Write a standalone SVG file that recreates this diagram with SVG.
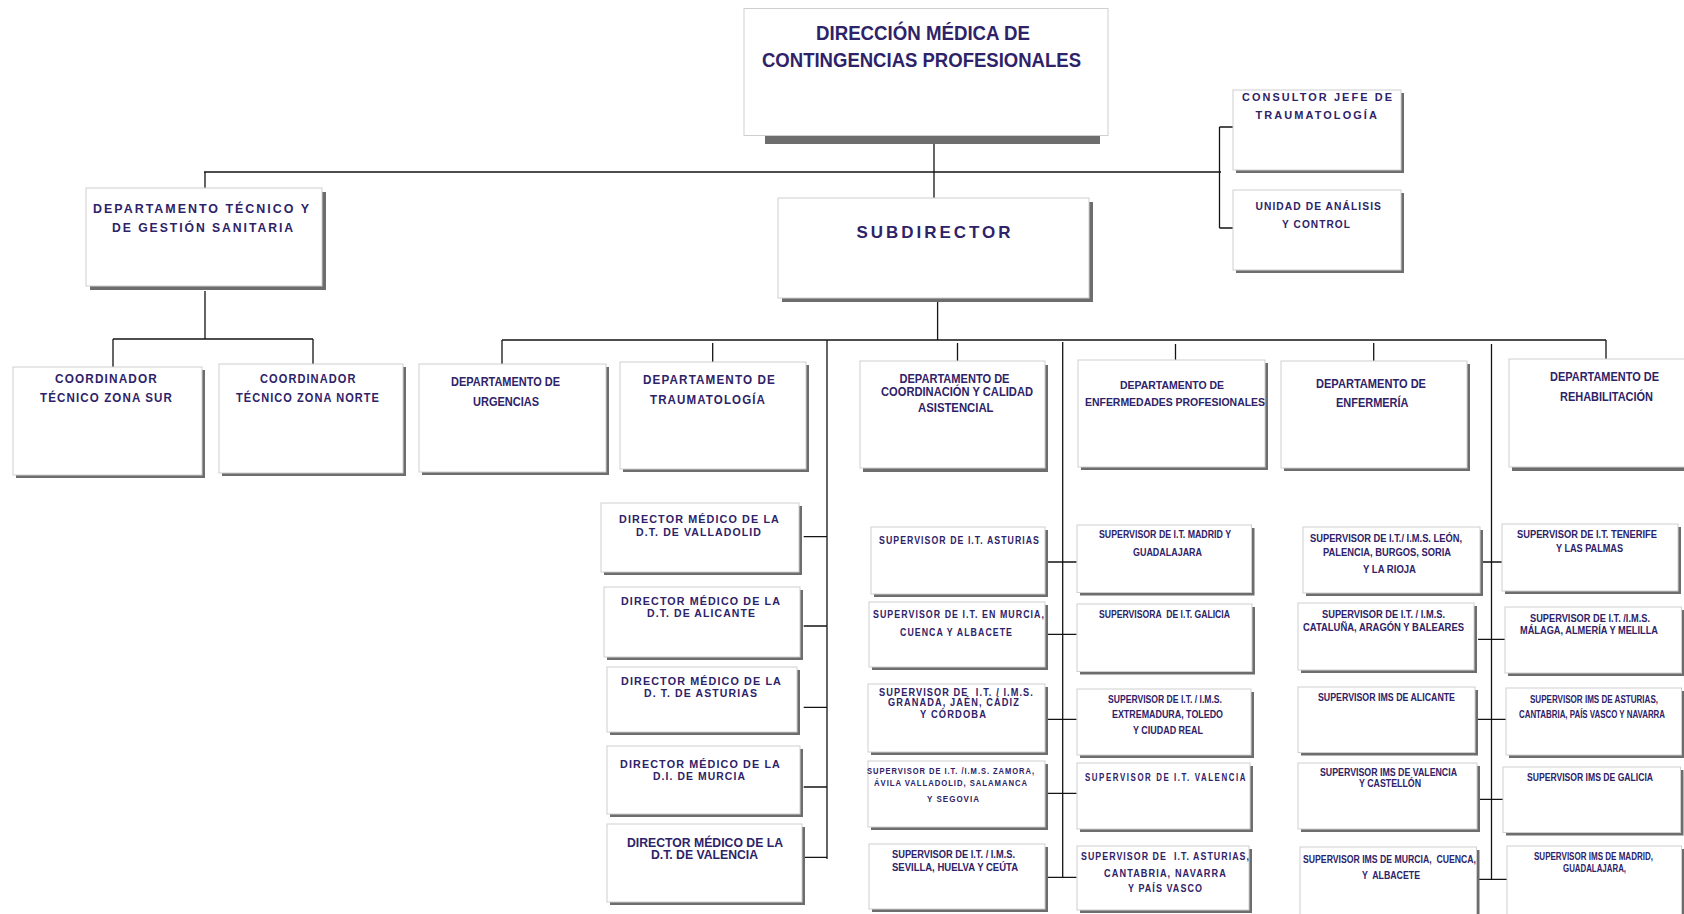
<svg xmlns="http://www.w3.org/2000/svg" width="1684" height="914" viewBox="0 0 1684 914">
<style>
.bx{fill:#fff;stroke:#cfcfcf;stroke-width:1}
.sh{fill:#6d6d6d}
text{font-family:"Liberation Sans",Arial,sans-serif;font-weight:bold;fill:#2e2268}
.f20{font-size:20px}
.f17{font-size:17px;letter-spacing:3px}
.f13{font-size:13px}
.f125{font-size:12.5px}
.f115{font-size:11.5px}
.f105{font-size:10.5px}
.f10{font-size:10px}
.f95{font-size:9.5px}
.ls2{letter-spacing:2px}
.ls1{letter-spacing:1.2px}
.cn{fill:none;stroke:#141414;stroke-width:1.3}
</style>
<rect width="1684" height="914" fill="#fff"/>
<g id="connectors">
<path class="cn" d="M934,144V198 M204,172H1221 M205,172V188 M1219.5,127V228 M1219.5,127H1233 M1219.5,228H1233 M205,291V339 M113,339H313 M113,339V367 M313,339V364 M937.6,302V340 M502,340H1606 M502,340V364 M712.7,343V362 M827,340V859 M957.5,343V361 M1062.7,342V878 M1175.5,344V360 M1373.7,343V361 M1491.5,344V880 M1606,340V359 M803.7,536.7H827 M803.7,626H827 M803.7,707.3H827 M803.7,787H827 M803.7,857.3H827 M1046.7,562H1076.7 M1046.7,634.3H1076.7 M1046.7,719.3H1076.7 M1046.7,793.3H1076.7 M1046.7,877.3H1076.7 M1479,562H1503.7 M1478,639.3H1505 M1475.7,719.3H1506 M1476,799.3H1506 M1476,879.3H1510"/>
</g>
<g id="n-direccion">
<rect class="sh" x="765" y="135.5" width="335" height="8.5"/>
<rect class="bx" x="744" y="8.5" width="364" height="127"/>
<text class="f20" x="816" y="39.5" textLength="214" lengthAdjust="spacingAndGlyphs">DIRECCIÓN MÉDICA DE</text>
<text class="f20" x="762" y="67" textLength="319" lengthAdjust="spacingAndGlyphs">CONTINGENCIAS PROFESIONALES</text>
</g>
<g id="n-consultor">
<rect class="sh" x="1236" y="93" width="168" height="80"/>
<rect class="bx" x="1233" y="90" width="168" height="80"/>
<text class="f105 ls2" x="1242" y="101" textLength="152" lengthAdjust="spacingAndGlyphs">CONSULTOR JEFE DE</text>
<text class="f105 ls2" x="1255.5" y="119" textLength="123.5" lengthAdjust="spacingAndGlyphs">TRAUMATOLOGÍA</text>
</g>
<g id="n-unidad">
<rect class="sh" x="1236" y="193" width="168" height="80"/>
<rect class="bx" x="1233" y="190" width="168" height="80"/>
<text class="f115 ls1" x="1255.5" y="210" textLength="126.5" lengthAdjust="spacingAndGlyphs">UNIDAD DE ANÁLISIS</text>
<text class="f115 ls1" x="1282" y="227.5" textLength="69" lengthAdjust="spacingAndGlyphs">Y CONTROL</text>
</g>
<g id="n-subdirector">
<rect class="sh" x="782" y="202" width="311" height="100"/>
<rect class="bx" x="778" y="198" width="311" height="100"/>
<text class="f17" x="856.5" y="237.5" textLength="157" lengthAdjust="spacingAndGlyphs">SUBDIRECTOR</text>
</g>
<g id="n-dtecnico">
<rect class="sh" x="90" y="192" width="236" height="98"/>
<rect class="bx" x="86" y="188" width="236" height="98"/>
<text class="f125 ls2" x="93" y="213" textLength="218" lengthAdjust="spacingAndGlyphs">DEPARTAMENTO TÉCNICO Y</text>
<text class="f125 ls2" x="112" y="232" textLength="183" lengthAdjust="spacingAndGlyphs">DE GESTIÓN SANITARIA</text>
</g>
<g id="n-coord-sur">
<rect class="sh" x="16" y="370" width="189" height="108"/>
<rect class="bx" x="13" y="367" width="189" height="108"/>
<text class="f125 ls1" x="55" y="383" textLength="103" lengthAdjust="spacingAndGlyphs">COORDINADOR</text>
<text class="f125 ls1" x="40" y="402" textLength="133" lengthAdjust="spacingAndGlyphs">TÉCNICO ZONA SUR</text>
</g>
<g id="n-coord-norte">
<rect class="sh" x="222" y="367" width="184" height="109"/>
<rect class="bx" x="219" y="364" width="184" height="109"/>
<text class="f125 ls1" x="260" y="383" textLength="96.5" lengthAdjust="spacingAndGlyphs">COORDINADOR</text>
<text class="f125 ls1" x="236" y="402" textLength="144" lengthAdjust="spacingAndGlyphs">TÉCNICO ZONA NORTE</text>
</g>
<g id="n-urgencias">
<rect class="sh" x="422" y="367" width="187" height="108"/>
<rect class="bx" x="419" y="364" width="187" height="108"/>
<text class="f13" x="451" y="386" textLength="109" lengthAdjust="spacingAndGlyphs">DEPARTAMENTO DE</text>
<text class="f13" x="473" y="406" textLength="66" lengthAdjust="spacingAndGlyphs">URGENCIAS</text>
</g>
<g id="n-traumatologia">
<rect class="sh" x="623" y="365" width="186" height="107"/>
<rect class="bx" x="620" y="362" width="186" height="107"/>
<text class="f125 ls1" x="643" y="384" textLength="133" lengthAdjust="spacingAndGlyphs">DEPARTAMENTO DE</text>
<text class="f125 ls1" x="650" y="404" textLength="116" lengthAdjust="spacingAndGlyphs">TRAUMATOLOGÍA</text>
</g>
<g id="n-coordinacion">
<rect class="sh" x="863" y="365" width="185" height="107"/>
<rect class="bx" x="860" y="361" width="185" height="107"/>
<text class="f125" x="899.5" y="383" textLength="110" lengthAdjust="spacingAndGlyphs">DEPARTAMENTO DE</text>
<text class="f125" x="881" y="396" textLength="152" lengthAdjust="spacingAndGlyphs">COORDINACIÓN Y CALIDAD</text>
<text class="f125" x="918" y="412" textLength="75.5" lengthAdjust="spacingAndGlyphs">ASISTENCIAL</text>
</g>
<g id="n-enfprof">
<rect class="sh" x="1081" y="363" width="187" height="107"/>
<rect class="bx" x="1078" y="360" width="187" height="107"/>
<text class="f115" x="1120" y="389" textLength="104" lengthAdjust="spacingAndGlyphs">DEPARTAMENTO DE</text>
<text class="f115" x="1085" y="406" textLength="180" lengthAdjust="spacingAndGlyphs">ENFERMEDADES PROFESIONALES</text>
</g>
<g id="n-enfermeria">
<rect class="sh" x="1284" y="364" width="186" height="107"/>
<rect class="bx" x="1281" y="361" width="186" height="107"/>
<text class="f125" x="1316" y="388" textLength="110" lengthAdjust="spacingAndGlyphs">DEPARTAMENTO DE</text>
<text class="f125" x="1336" y="407" textLength="72.5" lengthAdjust="spacingAndGlyphs">ENFERMERÍA</text>
</g>
<g id="n-rehab">
<rect class="sh" x="1512" y="363" width="180" height="108"/>
<rect class="bx" x="1509" y="359" width="180" height="108"/>
<text class="f125" x="1550" y="381" textLength="109" lengthAdjust="spacingAndGlyphs">DEPARTAMENTO DE</text>
<text class="f125" x="1560" y="401" textLength="93" lengthAdjust="spacingAndGlyphs">REHABILITACIÓN</text>
</g>
<g id="n-dir-valladolid">
<rect class="sh" x="604" y="506" width="198" height="69"/>
<rect class="bx" x="601" y="503" width="198" height="69"/>
<text class="f115 ls1" x="619" y="523" textLength="161" lengthAdjust="spacingAndGlyphs">DIRECTOR MÉDICO DE LA</text>
<text class="f115 ls1" x="636" y="536" textLength="126" lengthAdjust="spacingAndGlyphs">D.T. DE VALLADOLID</text>
</g>
<g id="n-dir-alicante">
<rect class="sh" x="607" y="590" width="196" height="70"/>
<rect class="bx" x="604" y="587" width="196" height="70"/>
<text class="f115 ls1" x="621" y="605" textLength="160" lengthAdjust="spacingAndGlyphs">DIRECTOR MÉDICO DE LA</text>
<text class="f115 ls1" x="647" y="617" textLength="109" lengthAdjust="spacingAndGlyphs">D.T. DE ALICANTE</text>
</g>
<g id="n-dir-asturias">
<rect class="sh" x="610" y="670" width="190" height="65"/>
<rect class="bx" x="607" y="667" width="190" height="65"/>
<text class="f115 ls1" x="621" y="685" textLength="161" lengthAdjust="spacingAndGlyphs">DIRECTOR MÉDICO DE LA</text>
<text class="f115 ls1" x="644" y="697" textLength="114" lengthAdjust="spacingAndGlyphs">D. T. DE ASTURIAS</text>
</g>
<g id="n-dir-murcia">
<rect class="sh" x="610" y="749" width="193" height="68"/>
<rect class="bx" x="607" y="746" width="193" height="68"/>
<text class="f115 ls1" x="620" y="768" textLength="161" lengthAdjust="spacingAndGlyphs">DIRECTOR MÉDICO DE LA</text>
<text class="f115 ls1" x="653" y="780" textLength="93" lengthAdjust="spacingAndGlyphs">D.I. DE MURCIA</text>
</g>
<g id="n-dir-valencia">
<rect class="sh" x="610" y="827" width="195" height="78"/>
<rect class="bx" x="607" y="824" width="195" height="78"/>
<text class="f13" x="627" y="847" textLength="156" lengthAdjust="spacingAndGlyphs">DIRECTOR MÉDICO DE LA</text>
<text class="f13" x="651" y="859" textLength="107" lengthAdjust="spacingAndGlyphs">D.T. DE VALENCIA</text>
</g>
<g id="n-s1-asturias">
<rect class="sh" x="874" y="530" width="174" height="67"/>
<rect class="bx" x="871" y="527" width="174" height="67"/>
<text class="f10 ls1" x="879" y="544" textLength="161" lengthAdjust="spacingAndGlyphs">SUPERVISOR DE I.T. ASTURIAS</text>
</g>
<g id="n-s1-murcia">
<rect class="sh" x="872" y="605" width="176" height="65"/>
<rect class="bx" x="869" y="602" width="176" height="65"/>
<text class="f10 ls1" x="873" y="618" textLength="172" lengthAdjust="spacingAndGlyphs">SUPERVISOR DE I.T. EN MURCIA,</text>
<text class="f10 ls1" x="900" y="636" textLength="113" lengthAdjust="spacingAndGlyphs">CUENCA Y ALBACETE</text>
</g>
<g id="n-s1-granada">
<rect class="sh" x="871" y="687" width="177" height="68"/>
<rect class="bx" x="868" y="684" width="177" height="68"/>
<text class="f10 ls1" x="879" y="696" textLength="155" lengthAdjust="spacingAndGlyphs" xml:space="preserve">SUPERVISOR DE  I.T. / I.M.S.</text>
<text class="f10 ls1" x="888" y="706" textLength="132" lengthAdjust="spacingAndGlyphs">GRANADA, JAÉN, CÁDIZ</text>
<text class="f10 ls1" x="920" y="718" textLength="67" lengthAdjust="spacingAndGlyphs">Y CÓRDOBA</text>
</g>
<g id="n-s1-zamora">
<rect class="sh" x="871" y="764" width="177" height="66"/>
<rect class="bx" x="868" y="761" width="177" height="66"/>
<text class="f95 ls1" x="867" y="774" textLength="168" lengthAdjust="spacingAndGlyphs">SUPERVISOR DE I.T. /I.M.S. ZAMORA,</text>
<text class="f95 ls1" x="874" y="786" textLength="154" lengthAdjust="spacingAndGlyphs">ÁVILA VALLADOLID, SALAMANCA</text>
<text class="f95 ls1" x="927" y="802" textLength="53" lengthAdjust="spacingAndGlyphs">Y SEGOVIA</text>
</g>
<g id="n-s1-sevilla">
<rect class="sh" x="872" y="847" width="176" height="65"/>
<rect class="bx" x="869" y="844" width="176" height="65"/>
<text class="f10" x="892" y="858" textLength="123" lengthAdjust="spacingAndGlyphs">SUPERVISOR DE I.T. / I.M.S.</text>
<text class="f10" x="892" y="871" textLength="126" lengthAdjust="spacingAndGlyphs">SEVILLA, HUELVA Y CEÚTA</text>
</g>
<g id="n-s2-madrid">
<rect class="sh" x="1080" y="528" width="174.5" height="67.5"/>
<rect class="bx" x="1077" y="525" width="174.5" height="67.5"/>
<text class="f105" x="1099" y="538" textLength="132" lengthAdjust="spacingAndGlyphs">SUPERVISOR DE I.T. MADRID Y</text>
<text class="f105" x="1133" y="556" textLength="69" lengthAdjust="spacingAndGlyphs">GUADALAJARA</text>
</g>
<g id="n-s2-galicia">
<rect class="sh" x="1080" y="607" width="175" height="67.5"/>
<rect class="bx" x="1077" y="604" width="175" height="67.5"/>
<text class="f105" x="1099" y="618" textLength="131" lengthAdjust="spacingAndGlyphs" xml:space="preserve">SUPERVISORA  DE I.T. GALICIA</text>
</g>
<g id="n-s2-extremadura">
<rect class="sh" x="1080" y="692" width="174" height="66"/>
<rect class="bx" x="1077" y="689" width="174" height="66"/>
<text class="f105" x="1108" y="703" textLength="114" lengthAdjust="spacingAndGlyphs">SUPERVISOR DE I.T. / I.M.S.</text>
<text class="f105" x="1112" y="718" textLength="111" lengthAdjust="spacingAndGlyphs">EXTREMADURA, TOLEDO</text>
<text class="f105" x="1133" y="734" textLength="70" lengthAdjust="spacingAndGlyphs">Y CIUDAD REAL</text>
</g>
<g id="n-s2-valencia">
<rect class="sh" x="1080" y="766" width="173" height="66"/>
<rect class="bx" x="1077" y="763" width="173" height="66"/>
<text class="f10 ls2" x="1085" y="781" textLength="162" lengthAdjust="spacingAndGlyphs">SUPERVISOR DE I.T. VALENCIA</text>
</g>
<g id="n-s2-asturias">
<rect class="sh" x="1080" y="849" width="172" height="64"/>
<rect class="bx" x="1077" y="846" width="172" height="64"/>
<text class="f10 ls1" x="1081" y="860" textLength="169" lengthAdjust="spacingAndGlyphs" xml:space="preserve">SUPERVISOR DE  I.T. ASTURIAS,</text>
<text class="f10 ls1" x="1104" y="877" textLength="123" lengthAdjust="spacingAndGlyphs">CANTABRIA, NAVARRA</text>
<text class="f10 ls1" x="1128" y="892" textLength="75" lengthAdjust="spacingAndGlyphs">Y PAÍS VASCO</text>
</g>
<g id="n-s3-leon">
<rect class="sh" x="1306" y="530" width="177" height="66"/>
<rect class="bx" x="1303" y="527" width="177" height="66"/>
<text class="f105" x="1310" y="542" textLength="152" lengthAdjust="spacingAndGlyphs">SUPERVISOR DE I.T./ I.M.S. LEÓN,</text>
<text class="f105" x="1323" y="556" textLength="128" lengthAdjust="spacingAndGlyphs">PALENCIA, BURGOS, SORIA</text>
<text class="f105" x="1363" y="573" textLength="53" lengthAdjust="spacingAndGlyphs">Y LA RIOJA</text>
</g>
<g id="n-s3-cataluna">
<rect class="sh" x="1301" y="606" width="176" height="67"/>
<rect class="bx" x="1298" y="603" width="176" height="67"/>
<text class="f105" x="1322" y="618" textLength="123" lengthAdjust="spacingAndGlyphs">SUPERVISOR DE I.T. / I.M.S.</text>
<text class="f105" x="1303" y="631" textLength="161" lengthAdjust="spacingAndGlyphs">CATALUÑA, ARAGÓN Y BALEARES</text>
</g>
<g id="n-s3-alicante">
<rect class="sh" x="1301" y="690" width="177" height="65.5"/>
<rect class="bx" x="1298" y="687" width="177" height="65.5"/>
<text class="f105" x="1318" y="701" textLength="137" lengthAdjust="spacingAndGlyphs">SUPERVISOR IMS DE ALICANTE</text>
</g>
<g id="n-s3-valencia">
<rect class="sh" x="1301" y="766" width="179" height="66"/>
<rect class="bx" x="1298" y="763" width="179" height="66"/>
<text class="f105" x="1320" y="776" textLength="137" lengthAdjust="spacingAndGlyphs">SUPERVISOR IMS DE VALENCIA</text>
<text class="f105" x="1359" y="787" textLength="62" lengthAdjust="spacingAndGlyphs">Y CASTELLÓN</text>
</g>
<g id="n-s3-murcia">
<rect class="sh" x="1303" y="850" width="176.5" height="70"/>
<rect class="bx" x="1300" y="847" width="176.5" height="70"/>
<text class="f105" x="1303" y="863" textLength="173" lengthAdjust="spacingAndGlyphs" xml:space="preserve">SUPERVISOR IMS DE MURCIA,  CUENCA,</text>
<text class="f105" x="1362" y="879" textLength="58" lengthAdjust="spacingAndGlyphs" xml:space="preserve">Y  ALBACETE</text>
</g>
<g id="n-s4-tenerife">
<rect class="sh" x="1505" y="527" width="176" height="67"/>
<rect class="bx" x="1502" y="524" width="176" height="67"/>
<text class="f105" x="1517" y="538" textLength="140" lengthAdjust="spacingAndGlyphs">SUPERVISOR DE I.T. TENERIFE</text>
<text class="f105" x="1556" y="552" textLength="67" lengthAdjust="spacingAndGlyphs">Y LAS PALMAS</text>
</g>
<g id="n-s4-malaga">
<rect class="sh" x="1508" y="610" width="176.5" height="66"/>
<rect class="bx" x="1505" y="607" width="176.5" height="66"/>
<text class="f105" x="1530" y="622" textLength="120" lengthAdjust="spacingAndGlyphs">SUPERVISOR DE I.T. /I.M.S.</text>
<text class="f105" x="1520" y="634" textLength="138" lengthAdjust="spacingAndGlyphs">MÁLAGA, ALMERÍA Y MELILLA</text>
</g>
<g id="n-s4-asturias">
<rect class="sh" x="1509" y="691" width="175.5" height="67"/>
<rect class="bx" x="1506" y="688" width="175.5" height="67"/>
<text class="f105" transform="translate(1530,703) scale(0.75,1)" x="0" y="0" textLength="170.7" lengthAdjust="spacingAndGlyphs">SUPERVISOR IMS DE ASTURIAS,</text>
<text class="f105" transform="translate(1519,718) scale(0.75,1)" x="0" y="0" textLength="194.7" lengthAdjust="spacingAndGlyphs">CANTABRIA, PAÍS VASCO Y NAVARRA</text>
</g>
<g id="n-s4-galicia">
<rect class="sh" x="1506" y="770" width="177.5" height="65.5"/>
<rect class="bx" x="1503" y="767" width="177.5" height="65.5"/>
<text class="f105" x="1527" y="781" textLength="126" lengthAdjust="spacingAndGlyphs">SUPERVISOR IMS DE GALICIA</text>
</g>
<g id="n-s4-madrid">
<rect class="sh" x="1510" y="849" width="174.5" height="70"/>
<rect class="bx" x="1507" y="846" width="174.5" height="70"/>
<text class="f10" x="1534" y="860" textLength="119" lengthAdjust="spacingAndGlyphs">SUPERVISOR IMS DE MADRID,</text>
<text class="f10" x="1563" y="872" textLength="63" lengthAdjust="spacingAndGlyphs">GUADALAJARA,</text>
</g>
</svg>
